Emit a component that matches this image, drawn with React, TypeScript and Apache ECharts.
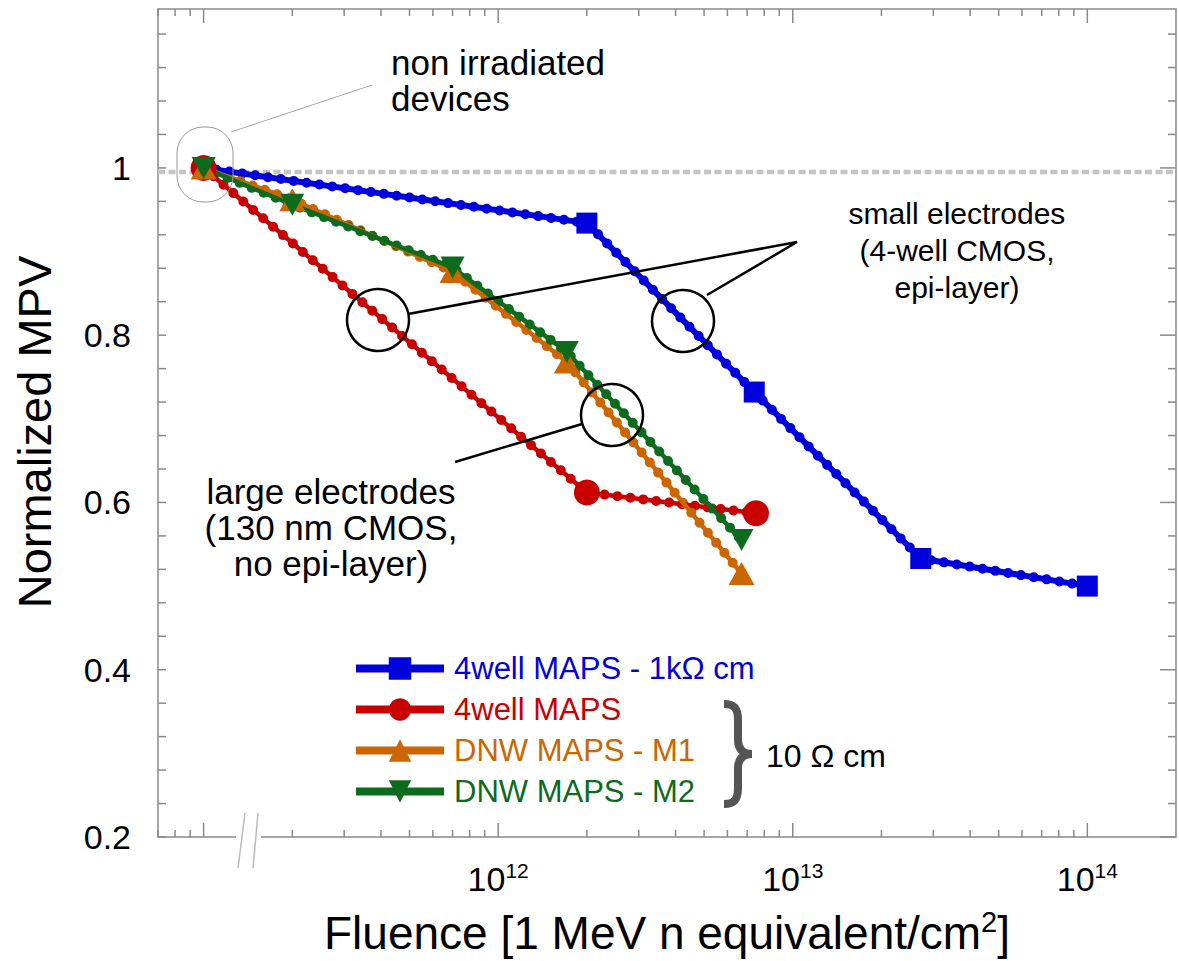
import React, { useEffect, useRef } from 'react';
import * as echarts from 'echarts';

const FONT = '"Liberation Sans", Arial, Helvetica, sans-serif';

const XMIN = 7e10;
const XMAX = 2e14;
const YMIN = 0.2;
const YMAX = 1.19;
const REF_LEVEL = 0.995;

const seriesNames = ['4well MAPS - 1kΩ cm', '4well MAPS', 'DNW MAPS - M1', 'DNW MAPS - M2'];
const seriesColors = ['#0000dd', '#c80000', '#cc6600', '#0d6b1d'];

const blueFluence = [1e11, 2.0e12, 7.4e12, 2.72e13, 1.0e14];
const blueMPV = [1.0, 0.934, 0.732, 0.533, 0.5];
const redFluence = [1e11, 2.0e12, 7.5e12];
const redMPV = [1.0, 0.612, 0.587];
const dnwFluence = [1e11, 2.0e11, 7.0e11, 1.71e12, 6.7e12];
const m1MPV = [1.0, 0.962, 0.876, 0.768, 0.515];
const m2MPV = [1.0, 0.956, 0.881, 0.78, 0.555];

const xTickDecades = [10, 11, 12, 13];
const xTickMantissas = [1, 2, 3, 4, 5, 6, 7, 8, 9];
const xTickExtra = [1e14];
const yTickStep = 0.04;
const yMajorStep = 0.2;

const zip = (xs: number[], ys: number[]) => xs.map((x, i) => [x, ys[i]]);

function buildXTicks() {
  const out: number[][] = [];
  xTickDecades.forEach((d) => {
    xTickMantissas.forEach((m) => {
      const v = m * Math.pow(10, d);
      if (v >= XMIN && v <= XMAX) out.push([v, YMIN, m === 1 ? 1 : 0]);
    });
  });
  xTickExtra.forEach((v) => out.push([v, YMIN, 1]));
  return out;
}

function buildYTicks() {
  const out: number[][] = [];
  for (let k = 0; ; k++) {
    const v = Math.round((YMIN + k * yTickStep) * 1000) / 1000;
    if (v > YMAX) break;
    const major = Math.abs(v / yMajorStep - Math.round(v / yMajorStep)) < 1e-6 ? 1 : 0;
    out.push([XMIN, v, major]);
  }
  return out;
}

const TICK_COLOR = '#8a8a8a';

const braceD =
  'M 2 4 C 12 4 16 8 16 20 L 16 40 C 16 48 20 54 30 54 C 20 54 16 60 16 68 L 16 88 C 16 100 12 104 2 104';

let braceRegistered = false;

export default function App() {
  const ref = useRef<HTMLDivElement>(null);

  useEffect(() => {
    if (!ref.current) return;
    if (!braceRegistered) {
      echarts.graphic.registerShape('brace', echarts.graphic.extendPath(braceD, {}) as any);
      braceRegistered = true;
    }
    const chart = echarts.init(ref.current, undefined, { renderer: 'svg' });

    const mainSeries = (i: number, data: number[][], symbol: string, size: any) => ({
      type: 'line',
      name: seriesNames[i],
      data,
      z: 3,
      symbol,
      symbolSize: size,
      showSymbol: true,
      showAllSymbol: true,
      silent: true,
      lineStyle: { color: seriesColors[i], width: i === 0 ? 6 : 4.5 },
      itemStyle: { color: seriesColors[i] },
      emphasis: { disabled: true },
    });
    const dotSeries = (i: number, data: number[][]) => ({
      type: 'line',
      name: seriesNames[i] + ' dots',
      data,
      z: 2,
      symbol: 'none',
      showSymbol: false,
      silent: true,
      lineStyle: { color: seriesColors[i], width: 10, type: [0, 13], cap: 'round' },
      emphasis: { disabled: true },
    });

    const blueData = zip(blueFluence, blueMPV);
    const redData = zip(redFluence, redMPV);
    const m1Data = zip(dnwFluence, m1MPV);
    const m2Data = zip(dnwFluence, m2MPV);

    const tickSeriesX = {
      type: 'custom',
      silent: true,
      z: 10,
      clip: false,
      encode: { x: 0, y: 1 },
      data: buildXTicks(),
      renderItem: (params: any, api: any) => {
        const cs = params.coordSys;
        const p = api.coord([api.value(0), api.value(1)]);
        const len = api.value(2) ? 14 : 7;
        const bottom = cs.y + cs.height;
        const top = cs.y;
        return {
          type: 'group',
          children: [
            { type: 'line', shape: { x1: p[0], y1: bottom, x2: p[0], y2: bottom - len }, style: { stroke: TICK_COLOR, lineWidth: 1.5 } },
            { type: 'line', shape: { x1: p[0], y1: top, x2: p[0], y2: top + len }, style: { stroke: TICK_COLOR, lineWidth: 1.5 } },
          ],
        };
      },
    };
    const tickSeriesY = {
      type: 'custom',
      silent: true,
      z: 10,
      clip: false,
      encode: { x: 0, y: 1 },
      data: buildYTicks(),
      renderItem: (params: any, api: any) => {
        const cs = params.coordSys;
        const p = api.coord([api.value(0), api.value(1)]);
        const right = cs.x + cs.width;
        const left = cs.x;
        const rlen = api.value(2) ? 16 : 8;
        return {
          type: 'group',
          children: [
            { type: 'line', shape: { x1: left, y1: p[1], x2: left + 8, y2: p[1] }, style: { stroke: TICK_COLOR, lineWidth: 1.5 } },
            { type: 'line', shape: { x1: right, y1: p[1], x2: right - rlen, y2: p[1] }, style: { stroke: TICK_COLOR, lineWidth: 1.5 } },
          ],
        };
      },
    };

    const annFont = { fontFamily: FONT, fill: '#000' };

    const option: any = {
      animation: false,
      backgroundColor: '#ffffff',
      grid: {
        left: 158,
        top: 9,
        width: 1020,
        height: 831,
        show: true,
        borderColor: TICK_COLOR,
        borderWidth: 1.5,
        containLabel: false,
      },
      xAxis: {
        type: 'log',
        logBase: 10,
        min: XMIN,
        max: XMAX,
        axisLine: { show: false },
        axisTick: { show: false },
        splitLine: { show: false },
        minorTick: { show: false },
        name: '{a|Fluence [1 MeV n equivalent/cm}{s|2}{a|]}',
        nameLocation: 'middle',
        nameGap: 70,
        nameTextStyle: {
          rich: {
            a: { fontSize: 46, fontFamily: FONT, color: '#000', lineHeight: 52 },
            s: { fontSize: 29, fontFamily: FONT, color: '#000', lineHeight: 29, verticalAlign: 'top' },
          },
        },
        axisLabel: {
          margin: 23,
          formatter: (v: number) => {
            const l = Math.log10(v);
            const r = Math.round(l);
            if (Math.abs(l - r) < 1e-6 && r >= 12) return `{a|10}{b|${r}}`;
            return '';
          },
          rich: {
            a: { fontSize: 34, fontFamily: FONT, color: '#000', lineHeight: 38 },
            b: { fontSize: 21, fontFamily: FONT, color: '#000', lineHeight: 21, verticalAlign: 'top' },
          },
        },
      },
      yAxis: {
        type: 'value',
        min: YMIN,
        max: YMAX,
        interval: yMajorStep,
        axisLine: { show: false },
        axisTick: { show: false },
        splitLine: { show: false },
        name: 'Normalized MPV',
        nameLocation: 'middle',
        nameRotate: 90,
        nameGap: 100,
        nameTextStyle: { fontSize: 47, fontFamily: FONT, color: '#000', padding: [0, 18, 0, 0] },
        axisLabel: {
          margin: 27,
          fontSize: 34,
          fontFamily: FONT,
          color: '#000',
          formatter: (v: number) => {
            if (Math.abs(v / yMajorStep - Math.round(v / yMajorStep)) > 1e-6) return '';
            return Math.abs(v - 1) < 1e-9 ? '1' : v.toFixed(1);
          },
        },
      },
      legend: {
        orient: 'vertical',
        left: 352,
        top: 653,
        padding: 0,
        itemWidth: 88,
        itemHeight: 28,
        itemGap: 10,
        selectedMode: false,
        lineStyle: { width: 8 },
        textStyle: { fontSize: 31, fontFamily: FONT, padding: [0, 0, 0, 5] },
        data: seriesNames.map((n, i) => ({ name: n, textStyle: { color: seriesColors[i] } })),
      },
      series: [
        {
          type: 'line',
          name: 'reference',
          data: [[XMIN, REF_LEVEL], [XMAX, REF_LEVEL]],
          z: 1,
          symbol: 'none',
          silent: true,
          lineStyle: { color: '#c4c4c4', width: 4.5, type: [7, 3.5] },
        },
        tickSeriesX,
        tickSeriesY,
        dotSeries(0, blueData),
        dotSeries(1, redData),
        dotSeries(2, m1Data),
        dotSeries(3, m2Data),
        mainSeries(0, blueData, 'rect', 21),
        mainSeries(1, redData, 'circle', 26),
        mainSeries(2, m1Data, 'triangle', [26, 23]),
        mainSeries(3, m2Data, 'path://M0,0L24,0L12,21Z', [24, 22]),
      ],
      graphic: [
        // axis break
        { type: 'rect', z: 100, shape: { x: 236, y: 834, width: 25, height: 12 }, style: { fill: '#fff' } },
        { type: 'line', z: 101, shape: { x1: 245, y1: 813, x2: 238, y2: 868 }, style: { stroke: '#bbbbbb', lineWidth: 1.5 } },
        { type: 'line', z: 101, shape: { x1: 258, y1: 813, x2: 253, y2: 868 }, style: { stroke: '#bbbbbb', lineWidth: 1.5 } },
        // non irradiated
        { type: 'rect', z: 50, shape: { x: 177, y: 127, width: 56, height: 75, r: 26 }, style: { fill: 'none', stroke: '#999', lineWidth: 1 } },
        { type: 'line', z: 50, shape: { x1: 231, y1: 132, x2: 372, y2: 85 }, style: { stroke: '#aaa', lineWidth: 1 } },
        { type: 'text', z: 50, style: { ...annFont, fontSize: 35, text: 'non irradiated\ndevices', x: 391, y: 80, align: 'left', verticalAlign: 'middle', lineHeight: 36 } },
        // small electrodes
        { type: 'text', z: 50, style: { ...annFont, fontSize: 30, text: 'small electrodes\n(4-well CMOS,\nepi-layer)', x: 957, y: 250, align: 'center', verticalAlign: 'middle', lineHeight: 37 } },
        { type: 'circle', z: 50, shape: { cx: 378, cy: 320, r: 31 }, style: { fill: 'none', stroke: '#000', lineWidth: 2.5 } },
        { type: 'circle', z: 50, shape: { cx: 683, cy: 321, r: 31 }, style: { fill: 'none', stroke: '#000', lineWidth: 2.5 } },
        { type: 'polyline', z: 50, shape: { points: [[408, 314], [797, 242], [707, 295]] }, style: { fill: 'none', stroke: '#000', lineWidth: 2.5 } },
        // large electrodes
        { type: 'text', z: 50, style: { ...annFont, fontSize: 35, text: 'large electrodes\n(130 nm CMOS,\nno epi-layer)', x: 331, y: 527, align: 'center', verticalAlign: 'middle', lineHeight: 36 } },
        { type: 'circle', z: 50, shape: { cx: 612, cy: 415, r: 31 }, style: { fill: 'none', stroke: '#000', lineWidth: 2.5 } },
        { type: 'line', z: 50, shape: { x1: 455, y1: 462, x2: 582, y2: 424 }, style: { stroke: '#000', lineWidth: 2.5 } },
        // brace
        { type: 'brace', z: 50, x: 722, y: 700, style: { fill: null, stroke: '#555555', lineWidth: 8 } },
        { type: 'text', z: 50, style: { ...annFont, fontSize: 32, text: '10 Ω cm', x: 766, y: 756, align: 'left', verticalAlign: 'middle' } },
      ],
    };

    chart.setOption(option);
    return () => chart.dispose();
  }, []);

  return (
    <div
      ref={ref}
      style={{ position: 'fixed', left: 0, top: 0, width: 1179, height: 961, background: '#fff' }}
    />
  );
}
